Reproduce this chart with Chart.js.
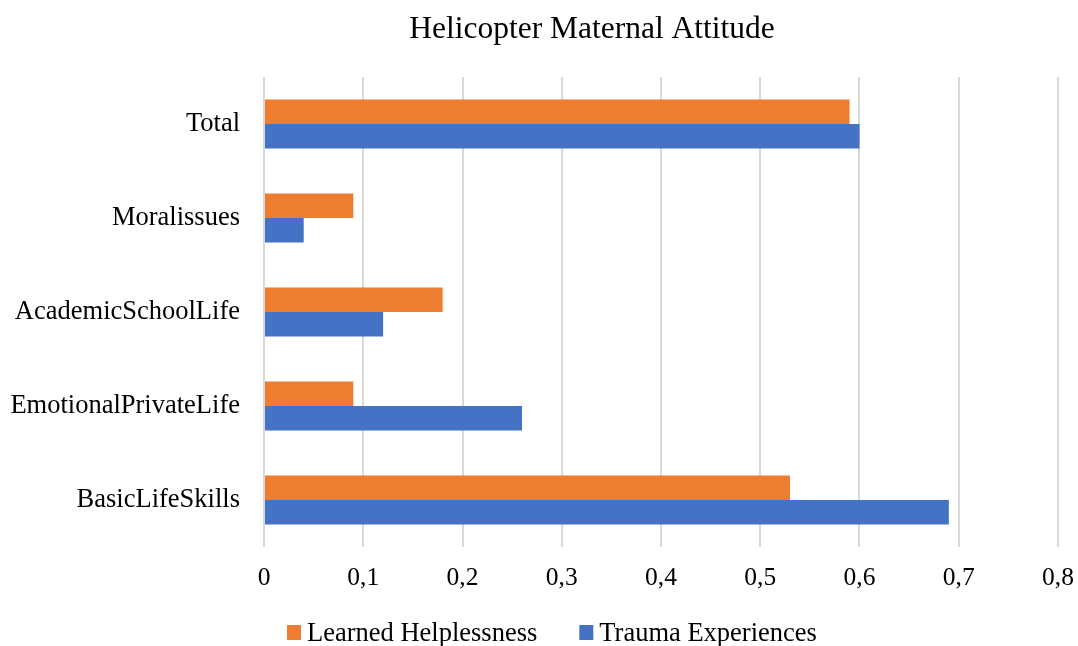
<!DOCTYPE html>
<html>
<head>
<meta charset="utf-8">
<script src="https://cdn.jsdelivr.net/npm/chart.js@4/dist/chart.umd.min.js"></script>
<style>
  html, body { margin: 0; padding: 0; background: #fff; }
  #wrap { width: 1078px; height: 646px; }
</style>
</head>
<body>
<div id="wrap"><canvas id="chart"></canvas></div>
<script>
const categories = ['Total', 'Moralissues', 'AcademicSchoolLife', 'EmotionalPrivateLife', 'BasicLifeSkills'];
const learnedHelplessness = [0.59, 0.09, 0.18, 0.09, 0.53];
const traumaExperiences = [0.60, 0.04, 0.12, 0.26, 0.69];
const xTicks = [0, 0.1, 0.2, 0.3, 0.4, 0.5, 0.6, 0.7, 0.8];
const chartTitle = 'Helicopter Maternal Attitude';

const serif = '"Liberation Serif", "Times New Roman", serif';

// title and legend drawn by hand so they sit where the original puts them
const titleAndLegend = {
  id: 'titleAndLegend',
  afterDraw(chart) {
    const ctx = chart.ctx;
    ctx.save();
    ctx.fillStyle = '#000';
    ctx.textBaseline = 'middle';
    ctx.textAlign = 'center';
    ctx.font = '31.5px ' + serif;
    ctx.fillText(chartTitle, 592, 30);

    ctx.textAlign = 'left';
    ctx.font = '26.5px ' + serif;
    let x = 287;
    const y = 633;
    chart.data.datasets.forEach((ds) => {
      ctx.fillStyle = ds.backgroundColor;
      ctx.fillRect(x, y - 8, 14, 15);
      ctx.fillStyle = '#000';
      ctx.fillText(ds.label, x + 20, y + 1);
      x += 20 + ctx.measureText(ds.label).width + 42;
    });
    ctx.restore();
  },
};

new Chart(document.getElementById('chart'), {
  type: 'bar',
  data: {
    labels: categories,
    datasets: [
      {
        label: 'Learned Helplessness',
        data: learnedHelplessness,
        backgroundColor: '#ED7D31',
        categoryPercentage: 0.52,
        barPercentage: 1.0,
      },
      {
        label: 'Trauma Experiences',
        data: traumaExperiences,
        backgroundColor: '#4472C4',
        categoryPercentage: 0.52,
        barPercentage: 1.0,
      },
    ],
  },
  plugins: [titleAndLegend],
  options: {
    indexAxis: 'y',
    responsive: true,
    maintainAspectRatio: false,
    animation: false,
    layout: { padding: { left: 0, right: 20, top: 77, bottom: 0 } },
    plugins: {
      title: { display: false },
      legend: { display: false },
      tooltip: { enabled: false },
    },
    scales: {
      x: {
        min: 0,
        max: 0.8,
        afterBuildTicks: (axis) => {
          axis.ticks = xTicks.map((v) => ({ value: v }));
        },
        afterFit: (axis) => {
          axis.height = 99;
          axis.paddingLeft = 0;
          axis.paddingRight = 0;
        },
        ticks: {
          color: '#000',
          font: { family: serif, size: 25.5 },
          padding: 16,
          callback: (v) => (v === 0 ? '0' : Number(v).toFixed(1).replace('.', ',')),
        },
        grid: { color: '#d9d9d9', lineWidth: 2, drawTicks: false },
        border: { display: false },
      },
      y: {
        afterFit: (axis) => { axis.width = 264; },
        ticks: {
          color: '#000',
          font: { family: serif, size: 26.5 },
          padding: 16,
        },
        grid: { display: false },
        border: { display: false },
      },
    },
  },
});
</script>
</body>
</html>
